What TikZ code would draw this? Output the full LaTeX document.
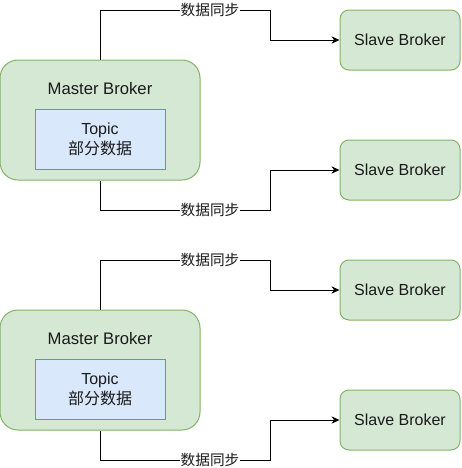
\documentclass[tikz,border=0pt]{standalone}
\usepackage{fontspec}
\setmainfont{Liberation Sans}
\newfontfamily\cjk{Noto Sans CJK SC}
\usetikzlibrary{arrows.meta}
\definecolor{greenfill}{HTML}{D5E8D4}
\definecolor{greenline}{HTML}{82B366}
\definecolor{bluefill}{HTML}{DAE8FC}
\definecolor{blueline}{HTML}{6C8EBF}
\definecolor{textgray}{HTML}{1A1A1A}
\begin{document}
\begin{tikzpicture}[x=0.75pt,y=-0.75pt,
	master/.style={draw=greenline,fill=greenfill,line width=0.75pt,rounded corners=13.5pt,minimum width=150pt,minimum height=90pt},
	slave/.style={draw=greenline,fill=greenfill,line width=0.75pt,rounded corners=6.75pt,minimum width=90pt,minimum height=45pt,text=textgray,font=\fontsize{12}{15}\selectfont},
	topic/.style={draw=blueline,fill=bluefill,line width=0.75pt,minimum width=97.5pt,minimum height=45pt,align=center,text=textgray,font=\fontsize{12}{15}\selectfont},
	title/.style={text=textgray,font=\fontsize{12.5}{15}\selectfont},
	sync/.style={fill=white,inner sep=0.5pt,text=textgray,font=\cjk\fontsize{11}{13}\selectfont},
	link/.style={line width=0.75pt,-{Stealth[length=6pt,width=5.5pt]}}]
	\useasboundingbox (0,0) rectangle (461,468);
	
	\node[master] (m1) at (100,120) {};
	\node[title] (m1t) at (100,89) {Master Broker};
	\node[topic] (t1) at (100,139) {Topic\\{\cjk 部分数据}};
	\node[slave] (s1) at (400,40) {Slave Broker};
	\node[slave] (s2) at (400,170) {Slave Broker};
	\coordinate (b1) at (270,10);
	\coordinate (b2) at (270,210);
	\draw[link] (m1.north) |- (b1) |- (s1.west);
	\draw[link] (m1.south) |- (b2) |- (s2.west);
	\node[sync] (l1) at (210,10) {数据同步};
	\node[sync] (l2) at (210,210) {数据同步};
	
	\node[master] (m2) at (100,370) {};
	\node[title] (m2t) at (100,339) {Master Broker};
	\node[topic] (t2) at (100,389) {Topic\\{\cjk 部分数据}};
	\node[slave] (s3) at (400,290) {Slave Broker};
	\node[slave] (s4) at (400,420) {Slave Broker};
	\coordinate (b3) at (270,260);
	\coordinate (b4) at (270,460);
	\draw[link] (m2.north) |- (b3) |- (s3.west);
	\draw[link] (m2.south) |- (b4) |- (s4.west);
	\node[sync] (l3) at (210,260) {数据同步};
	\node[sync] (l4) at (210,460) {数据同步};
	
\end{tikzpicture}
\end{document}
